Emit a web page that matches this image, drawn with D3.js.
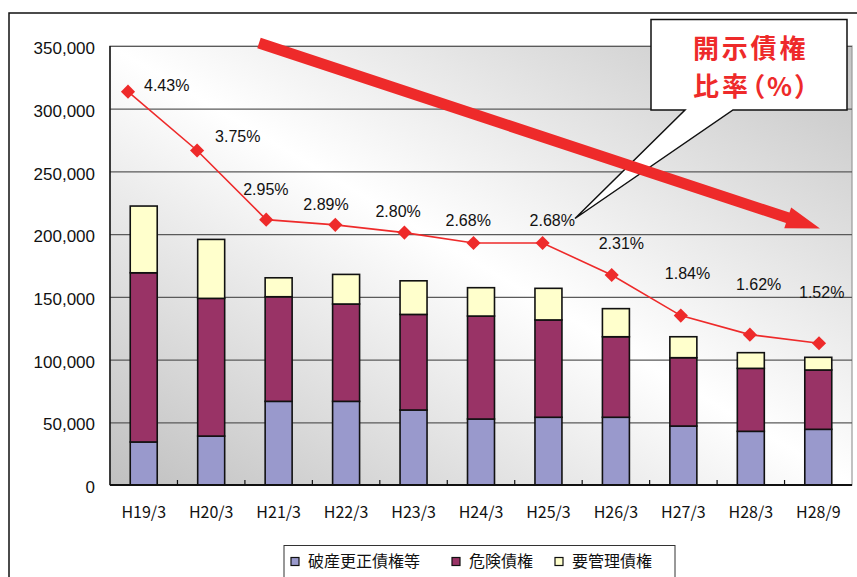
<!DOCTYPE html>
<html lang="ja">
<head>
<meta charset="utf-8">
<script src="https://cdn.jsdelivr.net/npm/d3@7"></script>
<style>
  html, body { margin: 0; padding: 0; background: #fff; }
  svg { display: block; }
</style>
</head>
<body>
<svg id="chart" width="857" height="577"></svg>
<script>
// 期末ごとの開示債権残高と開示債権比率
const categories = ["H19/3", "H20/3", "H21/3", "H22/3", "H23/3", "H24/3", "H25/3", "H26/3", "H27/3", "H28/3", "H28/9"];
const bankruptcy  = [34300, 39000, 66700, 66700, 59800, 52600, 54000, 54000, 47000, 42800, 44400]; // 破産更正債権等
const doubtful    = [134900, 109800, 83400, 77600, 76200, 82100, 77600, 64200, 54500, 50200, 47300]; // 危険債権
const substandard = [53200, 47000, 15100, 23600, 26800, 22600, 25200, 22400, 16700, 12500, 10100]; // 要管理債権
const ratio       = [4.43, 3.75, 2.95, 2.89, 2.80, 2.68, 2.68, 2.31, 1.84, 1.62, 1.52]; // 開示債権比率(%)
const yTicks      = [0, 50000, 100000, 150000, 200000, 250000, 300000, 350000];
const seriesNames = ["破産更正債権等", "危険債権", "要管理債権"];
const seriesKeys  = ["bankruptcy", "doubtful", "substandard"];
const seriesColors = ["#9999cc", "#993366", "#ffffcc"];
const calloutLines = ["開示債権", "比率（%）"];

// label placement relative to each diamond (text left edge, baseline)
const labelNudge = [[16, -1], [18, -8], [-23, -24.5], [-32, -15], [-29, -16], [-28, -16.6],
                    [-13, -16.6], [-13, -25.7], [-16, -36.7], [-14, -45], [-20, -45]];

const svg = d3.select("#chart");
const plot = { left: 110, right: 852, top: 46, bottom: 485 };
const latin = "'Liberation Sans', Arial, sans-serif";
const jp = "'Noto Sans CJK JP', sans-serif";

const rows = categories.map((c, i) => ({
  cat: c, bankruptcy: bankruptcy[i], doubtful: doubtful[i], substandard: substandard[i]
}));
const stacked = d3.stack().keys(seriesKeys)(rows);

const x = d3.scaleBand(categories, [plot.left, plot.right]).paddingInner(0.6).paddingOuter(0.3);
const y = d3.scaleLinear([0, 350000], [plot.bottom, plot.top]);
const xr = d3.scalePoint(categories, [128, 819]);
const yr = d3.scaleLinear([0, 5], [474.7, 42.4]);

// outer frame
svg.append("path").attr("d", "M9,577 V13 H857")
  .attr("fill", "none").attr("stroke", "#111").attr("stroke-width", 1.5);

// plot background gradient
const defs = svg.append("defs");
const grad = defs.append("linearGradient").attr("id", "plotBg")
  .attr("x1", 0).attr("y1", 1).attr("x2", 1).attr("y2", 0);
grad.append("stop").attr("offset", 0).attr("stop-color", "#c0c0c0");
grad.append("stop").attr("offset", 0.5).attr("stop-color", "#ffffff");
grad.append("stop").attr("offset", 1).attr("stop-color", "#c4c4c4");

svg.append("rect")
  .attr("x", plot.left).attr("y", plot.top)
  .attr("width", plot.right - plot.left).attr("height", plot.bottom - plot.top)
  .attr("fill", "url(#plotBg)").attr("stroke", "#9a9a9a").attr("stroke-width", 1.2);

// horizontal grid
svg.append("g")
  .attr("transform", `translate(${plot.left},0)`)
  .call(d3.axisRight(y).tickValues(yTicks.filter(v => v > 0)).tickSize(plot.right - plot.left).tickFormat(""))
  .call(g => g.select(".domain").remove())
  .call(g => g.selectAll("line").attr("stroke", "#5a5a5a").attr("stroke-width", 1.2));

// y axis labels
svg.append("g")
  .attr("transform", `translate(${plot.left},0)`)
  .call(d3.axisLeft(y).tickValues(yTicks).tickSize(0).tickPadding(15).tickFormat(d3.format(",")))
  .call(g => g.select(".domain").remove())
  .call(g => g.selectAll("text").attr("font-family", latin).attr("font-size", 17)
    .attr("fill", "#111").attr("dy", "0.45em"));

// stacked bars
svg.append("g").selectAll("g").data(stacked).join("g")
  .attr("fill", (d, i) => seriesColors[i])
  .selectAll("rect").data(d => d).join("rect")
  .attr("x", d => x(d.data.cat))
  .attr("width", x.bandwidth())
  .attr("y", d => y(d[1]))
  .attr("height", d => y(d[0]) - y(d[1]))
  .attr("stroke", "#111").attr("stroke-width", 1.6);

// axis lines
svg.append("line").attr("x1", plot.left).attr("x2", plot.left)
  .attr("y1", plot.top).attr("y2", plot.bottom).attr("stroke", "#111").attr("stroke-width", 1.5);

svg.append("g").attr("transform", `translate(0,${plot.bottom})`)
  .call(d3.axisBottom(x).tickSize(0).tickPadding(22))
  .call(g => g.select(".domain").attr("stroke", "#111").attr("stroke-width", 2)
    .attr("d", `M${plot.left},0H${plot.right}`))
  .call(g => g.selectAll("text").attr("font-family", jp).attr("font-size", 16).attr("fill", "#111"));

// category separator ticks, pointing up from the baseline
svg.append("g").selectAll("line").data(categories.slice(1)).join("line")
  .attr("x1", d => x(d) - x.step() * x.paddingInner() / 2)
  .attr("x2", d => x(d) - x.step() * x.paddingInner() / 2)
  .attr("y1", plot.bottom).attr("y2", plot.bottom - 5)
  .attr("stroke", "#111").attr("stroke-width", 1.2);

// ratio line
const red = "#ee2a2a";
svg.append("path").datum(ratio)
  .attr("d", d3.line().x((d, i) => xr(categories[i])).y(d => yr(d)))
  .attr("fill", "none").attr("stroke", red).attr("stroke-width", 1.6);

svg.append("g").selectAll("path").data(ratio).join("path")
  .attr("d", d3.symbol(d3.symbolSquare, 100))
  .attr("transform", (d, i) => `translate(${xr(categories[i])},${yr(d)}) rotate(45)`)
  .attr("fill", red);

svg.append("g").selectAll("text").data(ratio).join("text")
  .attr("x", (d, i) => xr(categories[i]) + labelNudge[i][0])
  .attr("y", (d, i) => yr(d) + labelNudge[i][1])
  .attr("font-family", latin).attr("font-size", 16).attr("fill", "#111")
  .text(d => d.toFixed(2) + "%");

// callout box
svg.append("path")
  .attr("d", "M651,19.5 H847 V110 H733 L575,218.5 L685,110 H651 Z")
  .attr("fill", "#fff").attr("stroke", "#111").attr("stroke-width", 1.5);

svg.append("g").selectAll("text").data(calloutLines).join("text")
  .attr("x", 693).attr("y", (d, i) => 58 + i * 37.5)
  .attr("font-family", jp).attr("font-weight", 700).attr("font-size", 26)
  .attr("letter-spacing", (d, i) => i === 0 ? 2.8 : 3)
  .attr("fill", red).style("font-feature-settings", "'palt'")
  .text(d => d);

// trend arrow
(function drawArrow() {
  const s = [259, 43], t = [820, 228.5];
  const len = Math.hypot(t[0] - s[0], t[1] - s[1]);
  const ux = (t[0] - s[0]) / len, uy = (t[1] - s[1]) / len;
  const nx = -uy, ny = ux;
  const hw = 5.5, headLen = 34, headHw = 11;
  const bx = t[0] - ux * headLen, by = t[1] - uy * headLen;
  const pts = [
    [s[0] + nx * hw, s[1] + ny * hw],
    [bx + nx * hw, by + ny * hw],
    [bx + nx * headHw, by + ny * headHw],
    t,
    [bx - nx * headHw, by - ny * headHw],
    [bx - nx * hw, by - ny * hw],
    [s[0] - nx * hw, s[1] - ny * hw]
  ];
  svg.append("path").attr("d", "M" + pts.map(p => p.join(",")).join("L") + "Z").attr("fill", red);
})();

// legend
const legend = svg.append("g");
legend.append("rect").attr("x", 284).attr("y", 545.5).attr("width", 391).attr("height", 60)
  .attr("fill", "#fff").attr("stroke", "#333").attr("stroke-width", 1);
const legendX = [291, 452, 555];
seriesNames.forEach((name, i) => {
  legend.append("rect").attr("x", legendX[i]).attr("y", 557.5).attr("width", 8).attr("height", 8)
    .attr("fill", seriesColors[i]).attr("stroke", "#111").attr("stroke-width", 1.2);
  legend.append("text").attr("x", legendX[i] + 17).attr("y", 566.5)
    .attr("font-family", jp).attr("font-size", 16).attr("fill", "#111").text(name);
});
</script>
</body>
</html>
